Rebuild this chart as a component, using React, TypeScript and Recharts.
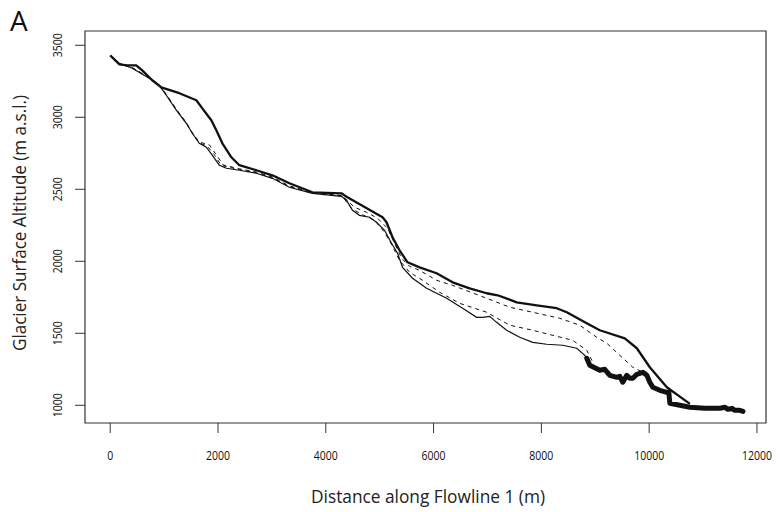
import React from 'react'
import { LineChart, Line, XAxis, YAxis, ReferenceArea, Label } from 'recharts'

// distance along flowline (m), surface altitude (m a.s.l.)
const thickProfile: [number, number][] = [
  [0, 3430], [167, 3368], [316, 3361], [483, 3361], [594, 3326], [780, 3257], [947, 3208],
  [1282, 3167], [1598, 3118], [1709, 3062], [1876, 2979], [1969, 2910], [2081, 2819],
  [2248, 2722], [2396, 2667], [2712, 2632], [3009, 2597], [3325, 2542], [3752, 2479],
  [4291, 2472], [4402, 2444], [5053, 2306], [5127, 2271], [5238, 2167], [5368, 2076],
  [5517, 1993], [5740, 1958], [6056, 1917], [6353, 1854], [6669, 1812], [6985, 1778],
  [7189, 1764], [7542, 1715], [7913, 1694], [8285, 1674], [8471, 1646], [8842, 1569],
  [9084, 1521], [9548, 1465], [9771, 1396], [10012, 1264], [10328, 1125], [10756, 1010],
]

const thinProfile: [number, number][] = [
  [37, 3417], [167, 3375], [409, 3340], [724, 3271], [910, 3222], [1040, 3153], [1226, 3049],
  [1412, 2958], [1523, 2889], [1653, 2819], [1783, 2792], [1895, 2736], [2025, 2667],
  [2155, 2646], [2396, 2632], [2712, 2611], [3009, 2576], [3325, 2514], [3752, 2472],
  [4291, 2451], [4384, 2424], [4495, 2354], [4625, 2319], [4811, 2306], [4941, 2271],
  [5090, 2215], [5220, 2125], [5331, 2056], [5424, 1958], [5610, 1882], [5870, 1812],
  [6242, 1743], [6539, 1674], [6799, 1611], [6910, 1611], [7040, 1618], [7170, 1576],
  [7356, 1521], [7598, 1472], [7839, 1437], [8099, 1424], [8396, 1417], [8656, 1396],
  [8805, 1347], [8898, 1292],
]

const dashedUpper: [number, number][] = [
  [20, 3422], [170, 3372], [410, 3345], [720, 3276], [910, 3226], [1040, 3160], [1230, 3054],
  [1410, 2964], [1520, 2895], [1650, 2828], [1840, 2808], [1970, 2738], [2100, 2668],
  [2400, 2642], [2710, 2620], [3010, 2585], [3320, 2524], [3750, 2477], [4300, 2456],
  [4533, 2375], [4756, 2340], [4960, 2299], [5146, 2229], [5276, 2125], [5406, 2021],
  [5554, 1965], [5740, 1937], [6056, 1868], [6353, 1833], [6985, 1743], [7412, 1681],
  [7839, 1646], [8341, 1604], [8712, 1556], [9028, 1472], [9214, 1431], [9455, 1347],
  [9697, 1264], [9957, 1215],
]

const dashedLower: [number, number][] = [
  [30, 3419], [170, 3373], [410, 3342], [720, 3273], [910, 3224], [1040, 3156], [1230, 3051],
  [1410, 2960], [1520, 2891], [1650, 2822], [1800, 2800], [1930, 2740], [2060, 2666],
  [2400, 2636], [2710, 2614], [3010, 2579], [3320, 2518], [3750, 2474], [4300, 2453],
  [4477, 2368], [4663, 2326], [4904, 2285], [5090, 2201], [5238, 2104], [5368, 2007],
  [5554, 1924], [5796, 1868], [6112, 1785], [6483, 1708], [6985, 1646], [7412, 1556],
  [7839, 1521], [8211, 1486], [8582, 1451], [8842, 1382], [8954, 1299],
]

const frontProfile: [number, number][] = [
  [8842, 1326], [8898, 1278], [9084, 1243], [9177, 1250], [9270, 1208], [9400, 1194],
  [9455, 1201], [9511, 1160], [9585, 1208], [9641, 1187], [9697, 1187], [9771, 1215],
  [9883, 1229], [9957, 1208], [10012, 1160], [10068, 1125], [10198, 1104], [10328, 1090],
  [10365, 1090], [10384, 1014], [10570, 1000], [10756, 986], [11034, 979], [11313, 979],
  [11406, 986], [11462, 972], [11536, 979], [11591, 965], [11684, 965], [11740, 958],
]

const xTicks = [0, 2000, 4000, 6000, 8000, 10000, 12000]
const yTicks = [1000, 1500, 2000, 2500, 3000, 3500]

const toRows = (pts: [number, number][]) => pts.map(([d, z]) => ({ d, z }))

const FONT = '"Open Sans", "DejaVu Sans", sans-serif'
const INK = '#111'

function XTick({ x, payload }: any) {
  const s = String(payload.value)
  return (
    <text x={x} y={460} textAnchor="middle" fontFamily={FONT} fontSize={12} fill={INK}
      textLength={s.length * 6} lengthAdjust="spacingAndGlyphs">
      {s}
    </text>
  )
}

function YTick({ y, payload }: any) {
  const s = String(payload.value)
  return (
    <text x={62} y={y} textAnchor="middle" fontFamily={FONT} fontSize={12} fill={INK}
      transform={`rotate(-90, 62, ${y})`} textLength={s.length * 6} lengthAdjust="spacingAndGlyphs">
      {s}
    </text>
  )
}

const xTitle = () => (
  <text x={428} y={503} textAnchor="middle" fontFamily={FONT} fontSize={19} fill="#222"
    textLength={234} lengthAdjust="spacingAndGlyphs">
    Distance along Flowline 1 (m)
  </text>
)

const yTitle = () => (
  <text x={26} y={223} textAnchor="middle" fontFamily={FONT} fontSize={19} fill="#222"
    transform="rotate(-90, 26, 223)" textLength={256} lengthAdjust="spacingAndGlyphs">
    Glacier Surface Altitude (m a.s.l.)
  </text>
)

const panelTag = () => (
  <text x={10} y={31} fontFamily={FONT} fontSize={28} fill={INK}>A</text>
)

export default function App() {
  return (
    <div style={{ position: 'absolute', left: 0, top: 0, width: 780, height: 512, background: '#fff' }}>
      <LineChart width={780} height={512} margin={{ top: 31, right: 14, bottom: 0, left: 0 }}>
        <XAxis type="number" dataKey="d" domain={[-468, 12168]} ticks={xTicks} allowDataOverflow
          height={89} axisLine={false} tickSize={10} tickLine={{ stroke: '#333' }} tick={<XTick />}
          interval={0}>
          <Label content={xTitle} />
        </XAxis>
        <YAxis type="number" dataKey="z" domain={[877, 3599]} ticks={yTicks} allowDataOverflow
          width={85} axisLine={false} tickSize={10} tickLine={{ stroke: '#333' }} tick={<YTick />}
          interval={0}>
          <Label content={yTitle} />
          <Label content={panelTag} />
        </YAxis>
        <ReferenceArea x1={-468} x2={12168} y1={877} y2={3599} fill="none" stroke="#333" strokeWidth={1.2} />
        <Line data={toRows(dashedUpper)} dataKey="z" type="linear" stroke={INK} strokeWidth={1}
          strokeDasharray="4 4" dot={false} isAnimationActive={false} />
        <Line data={toRows(dashedLower)} dataKey="z" type="linear" stroke={INK} strokeWidth={1}
          strokeDasharray="4 4" dot={false} isAnimationActive={false} />
        <Line data={toRows(thinProfile)} dataKey="z" type="linear" stroke={INK} strokeWidth={1.2}
          dot={false} isAnimationActive={false} />
        <Line data={toRows(thickProfile)} dataKey="z" type="linear" stroke={INK} strokeWidth={2.3}
          dot={false} isAnimationActive={false} strokeLinejoin="round" />
        <Line data={toRows(frontProfile)} dataKey="z" type="linear" stroke={INK} strokeWidth={5}
          dot={false} isAnimationActive={false} strokeLinejoin="round" strokeLinecap="round" />
      </LineChart>
    </div>
  )
}
